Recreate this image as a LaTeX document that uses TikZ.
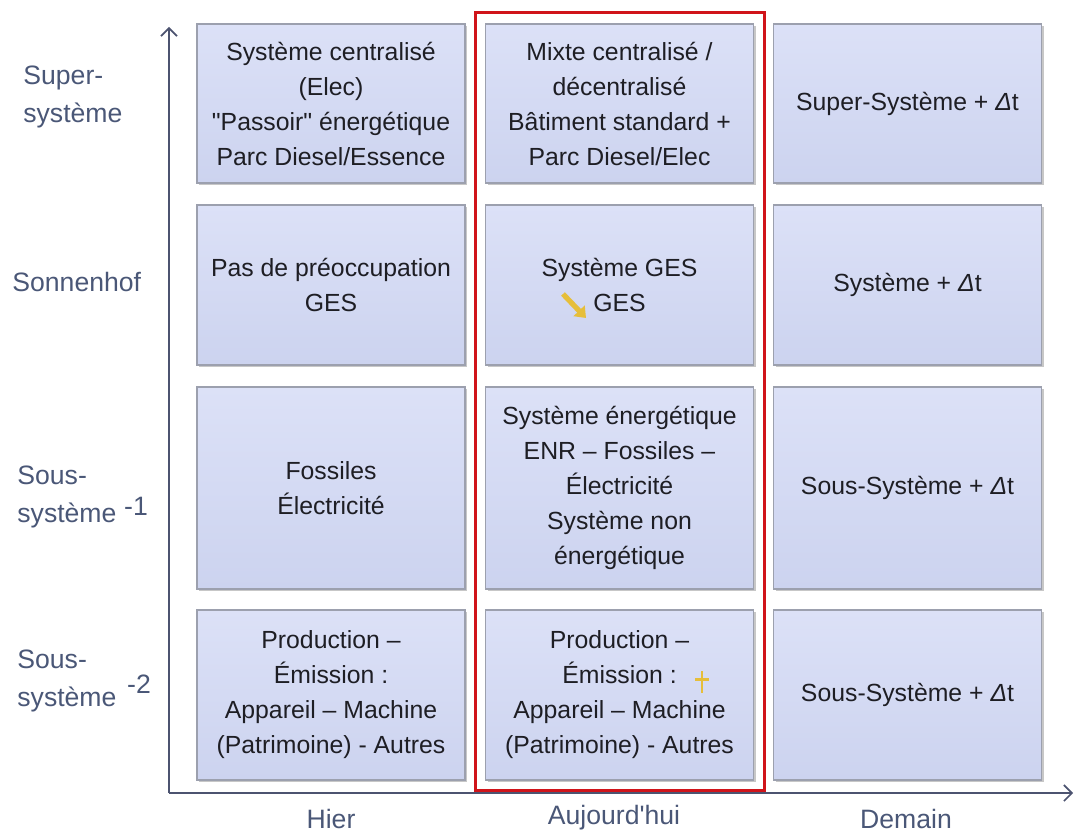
\documentclass[tikz,border=0pt]{standalone}
\usepackage{fontspec}
\setmainfont{Liberation Sans}
\newfontfamily\arial{Liberation Sans}
\usetikzlibrary{shadows,arrows.meta}
\definecolor{celltop}{HTML}{DCE1F7}
\definecolor{cellbot}{HTML}{CCD3EF}
\definecolor{celldraw}{HTML}{9CA0AE}
\definecolor{labcol}{HTML}{4A5777}
\definecolor{axiscol}{HTML}{4C5370}
\definecolor{redframe}{HTML}{D0141A}
\definecolor{celltext}{HTML}{1E1E24}
\definecolor{iconcol}{HTML}{E6BE3A}
\begin{document}
\begin{tikzpicture}[x=0.5pt,y=-0.5pt,
  cell/.style={draw=celldraw, line width=0.6pt, top color=celltop, bottom color=cellbot,
    minimum width=134pt, inner sep=0pt, align=center, text=celltext,
    font=\arial\fontsize{12.4}{17.5}\selectfont,
    drop shadow={shadow xshift=1.2pt, shadow yshift=-1.2pt, fill=black, opacity=0.22}},
  rowA/.style={minimum height=79.5pt},
  rowB/.style={minimum height=80pt},
  rowC/.style={minimum height=101pt},
  rowD/.style={minimum height=85pt},
  lab/.style={text=labcol, inner sep=0pt, font=\arial\fontsize{13.3}{19}\selectfont},
  axis/.style={draw=axiscol, line width=0.8pt},
  icon/.style={draw=iconcol}
]
\useasboundingbox (0,0) rectangle (1075,834);

% axes
\coordinate (O) at (169,793);
\coordinate (ytop) at (169,27);
\coordinate (xend) at (1073,793);
\draw[axis, -{Straight Barb[length=4pt,width=8pt]}] (O) -- (ytop);
\draw[axis, -{Straight Barb[length=4pt,width=8pt]}] (O) -- (xend);

% row 1
\node[cell,rowA] (b11) at (331,103.5) {Système centralisé\\(Elec)\\"Passoir" énergétique\\Parc Diesel/Essence};
\node[cell,rowA] (b12) at (619.5,103.5) {Mixte centralisé /\\décentralisé\\Bâtiment standard +\\Parc Diesel/Elec};
\node[cell,rowA] (b13) at (907.5,103.5) {Super-Système + {\itshape Δ}t};
% row 2
\node[cell,rowB] (b21) at (331,285) {Pas de préoccupation\\GES};
\node[cell,rowB] (b22) at (619.5,285) {Système GES\\GES};
\node[cell,rowB] (b23) at (907.5,285) {Système + {\itshape Δ}t};
% row 3
\node[cell,rowC] (b31) at (331,488) {Fossiles\\Électricité};
\node[cell,rowC] (b32) at (619.5,488) {Système énergétique\\ENR – Fossiles –\\Électricité\\Système non\\énergétique};
\node[cell,rowC] (b33) at (907.5,488) {Sous-Système + {\itshape Δ}t};
% row 4
\node[cell,rowD] (b41) at (331,695) {Production –\\Émission :\\Appareil – Machine\\(Patrimoine) - Autres};
\node[cell,rowD] (b42) at (619.5,695) {Production –\\Émission :\\Appareil – Machine\\(Patrimoine) - Autres};
\node[cell,rowD] (b43) at (907.5,695) {Sous-Système + {\itshape Δ}t};

% icons
\draw[icon, line width=2.6pt, -{Triangle[length=5pt,width=7.5pt]}] (563,294) -- (586,318);
\draw[icon, line width=1.2pt] (702,671) -- (702,693);
\draw[icon, line width=1.5pt] (695,679) -- (709,679);

% red frame
\draw[redframe, line width=1.5pt] (475,13) rectangle (764,790);

% row labels
\node[lab, anchor=west, align=left] (lsuper) at (23,97) {Super-\\système};
\node[lab, anchor=west] (lsonn) at (12,282) {Sonnenhof};
\node[lab, anchor=west, align=left] (lsous1) at (17,497) {Sous-\\système};
\node[lab] (lm1) at (136,506) {-1};
\node[lab, anchor=west, align=left] (lsous2) at (17,681) {Sous-\\système};
\node[lab] (lm2) at (139,684) {-2};

% column labels
\node[lab] (lhier) at (331,819) {Hier};
\node[lab] (lauj) at (614,818) {Aujourd'hui};
\node[lab] (ldem) at (906,819) {Demain};
\end{tikzpicture}
\end{document}
